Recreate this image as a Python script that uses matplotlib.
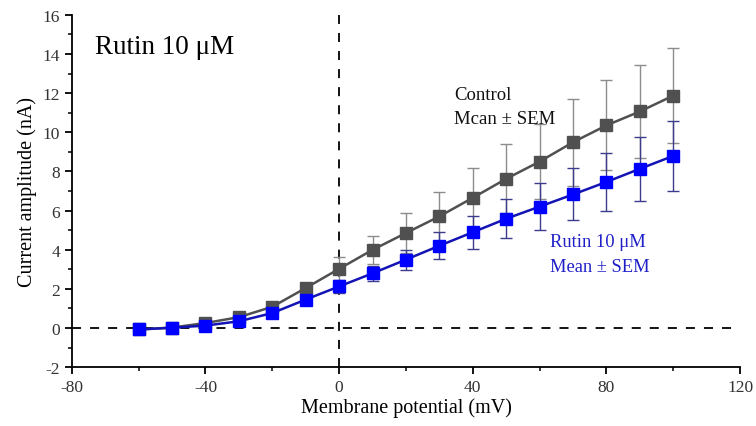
import numpy as np
import matplotlib.pyplot as plt
from matplotlib.ticker import MultipleLocator

# membrane potential steps (mV)
voltage = [-60, -50, -40, -30, -20, -10, 0, 10, 20, 30, 40, 50, 60, 70, 80, 90, 100]

# current amplitude (nA), mean and SEM
control_mean = [-0.08, 0.02, 0.25, 0.55, 1.08, 2.04, 3.02, 3.99, 4.85, 5.7, 6.65, 7.62, 8.5, 9.49, 10.35, 11.06, 11.87]
control_sem = [0.02, 0.03, 0.05, 0.08, 0.12, 0.22, 0.6, 0.73, 1.0, 1.27, 1.5, 1.76, 1.93, 2.22, 2.3, 2.4, 2.43]
rutin_mean = [-0.08, 0.01, 0.12, 0.34, 0.76, 1.45, 2.12, 2.79, 3.49, 4.2, 4.89, 5.58, 6.2, 6.82, 7.46, 8.13, 8.79]
rutin_sem = [0.02, 0.02, 0.04, 0.06, 0.1, 0.18, 0.32, 0.38, 0.51, 0.68, 0.85, 1.0, 1.22, 1.33, 1.5, 1.62, 1.77]

plt.rcParams['font.family'] = ['Liberation Serif', 'DejaVu Serif']
plt.rcParams['axes.unicode_minus'] = False

fig = plt.figure(figsize=(7.56, 4.27), dpi=100)
ax = fig.add_axes([0.095, 0.138, 0.884, 0.825])

# reference lines
ax.axhline(0, color='black', ls=(0, (5, 5)), lw=1.3, zorder=1)
ax.axvline(0, color='black', ls=(0, (5, 5)), lw=1.3, zorder=1)

# control
ax.errorbar(voltage, control_mean, yerr=control_sem, fmt='none', ecolor='#8c8c8c',
            elinewidth=1.0, capsize=4, capthick=1.0, zorder=2)
ax.plot(voltage, control_mean, color='#505050', lw=1.8, marker='s', ms=8.5,
        mfc='#505050', mec='#505050', zorder=3)

# rutin
ax.errorbar(voltage, rutin_mean, yerr=rutin_sem, fmt='none', ecolor='#3c3c8c',
            elinewidth=1.0, capsize=4, capthick=1.0, zorder=4)
ax.plot(voltage, rutin_mean, color='#1414b4', lw=1.8, marker='s', ms=8.5,
        mfc='#0000ff', mec='#0000ff', zorder=5)

ax.set_xlim(-80, 120)
ax.set_ylim(-2, 16)
ax.xaxis.set_major_locator(MultipleLocator(40))
ax.xaxis.set_minor_locator(MultipleLocator(20))
ax.yaxis.set_major_locator(MultipleLocator(2))
ax.yaxis.set_minor_locator(MultipleLocator(1))

for side in ['top', 'right']:
    ax.spines[side].set_visible(False)
for side in ['left', 'bottom']:
    ax.spines[side].set_linewidth(1.3)

ax.tick_params(which='major', direction='out', length=5, width=1.3, labelsize=12.5,
               colors='black', labelcolor='#333333')
ax.tick_params(which='minor', direction='out', length=3, width=1.1)

ax.set_xlabel('Membrane potential (mV)', fontsize=14.5, labelpad=2)
ax.set_ylabel('Current amplitude (nA)', fontsize=14.5, labelpad=4)

ax.text(-73.2, 14.4, 'Rutin 10 \u03bcM', fontsize=19.5, va='center', ha='left')
ax.text(34.5, 11.3, 'Control\nMcan \u00b1 SEM', fontsize=13.5, va='center', ha='left',
        linespacing=1.55, color='#111111')
ax.text(63, 3.78, 'Rutin 10 \u03bcM\nMean \u00b1 SEM', fontsize=13.3, va='center', ha='left',
        linespacing=1.55, color='#1f1fc8')

fig.savefig('out.png', dpi=100)
